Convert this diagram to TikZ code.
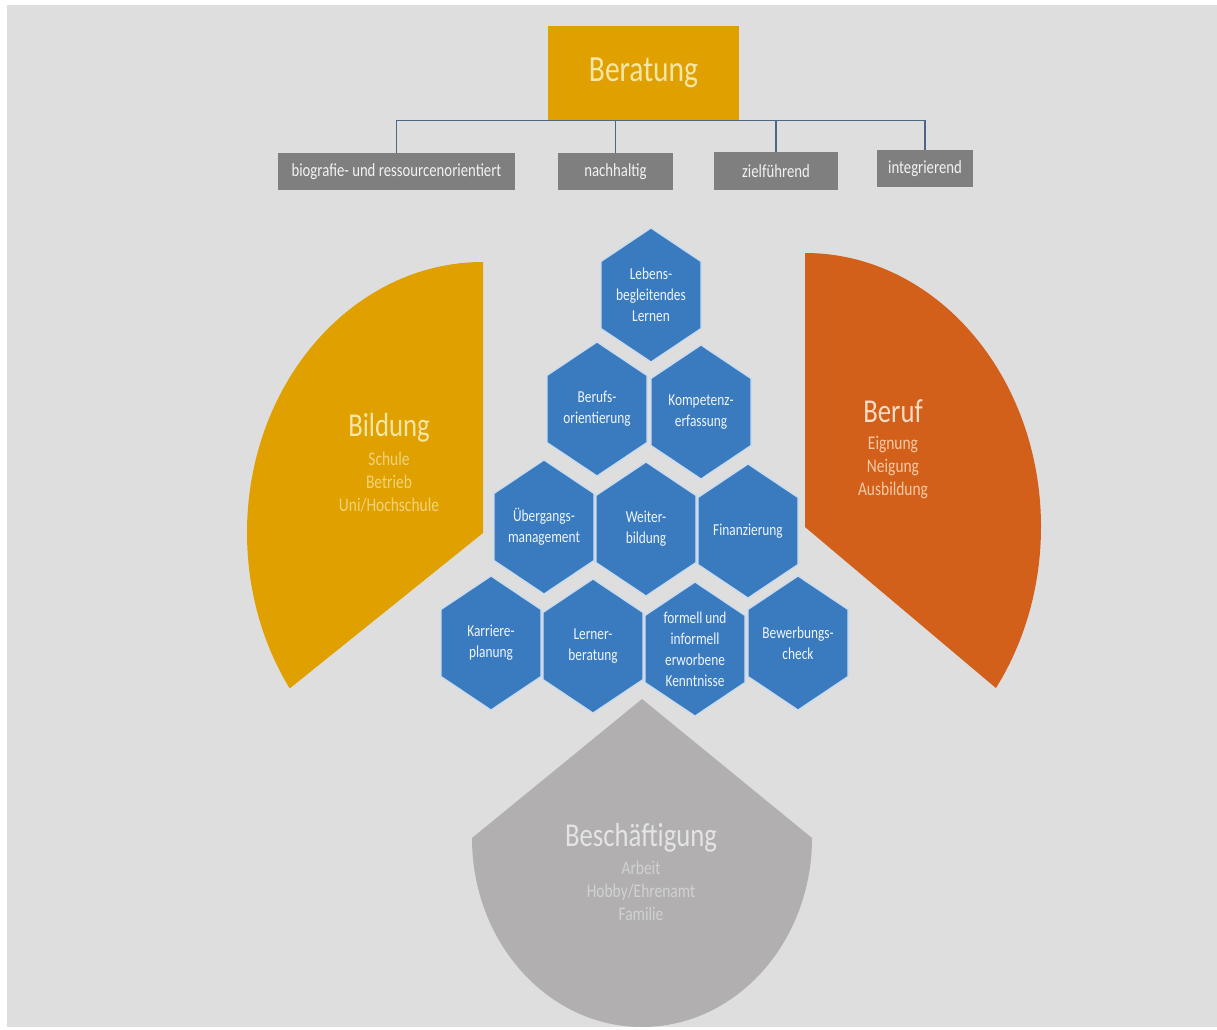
\documentclass[tikz,border=0pt]{standalone}
\usepackage{fontspec}
\setmainfont{Carlito}[FakeStretch=0.8]
\usetikzlibrary{calc}

\definecolor{bg}{HTML}{DEDEDE}
\definecolor{gold}{HTML}{E0A100}
\definecolor{rust}{HTML}{D2601A}
\definecolor{ash}{HTML}{B1AFAF}
\definecolor{hexblue}{HTML}{3A7BBF}
\definecolor{hexedge}{HTML}{C9DCEF}
\definecolor{slate}{HTML}{7F7F7F}
\definecolor{linkblue}{HTML}{4C6685}
\definecolor{paleyellow}{HTML}{F7E6A6}
\definecolor{softyellow}{HTML}{F2D27A}
\definecolor{palepeach}{HTML}{F9DCC4}
\definecolor{softpeach}{HTML}{F5C9A6}
\definecolor{paleash}{HTML}{E4E4E4}
\definecolor{softash}{HTML}{D2D2D2}

\tikzset{
  hexfill/.style={fill=hexblue, draw=hexedge, line width=0.7pt, line join=miter},
  hextext/.style={text=white!92!hexblue, font=\fontsize{9.5}{12}\selectfont, align=center, inner sep=0pt},
  tag/.style={fill=slate, text=white!90!slate, font=\fontsize{10.5}{12}\selectfont, inner sep=0pt},
  link/.style={draw=linkblue, line width=0.9pt},
  bigtitle/.style={font=\fontsize{19}{22}\selectfont, inner sep=0pt},
  subtitle/.style={font=\fontsize{11}{13}\selectfont, align=center, inner sep=0pt},
}

% one honeycomb cell: name, centre x, centre y, label
\newcommand\hexcell[4]{%
  \path[hexfill] (#2-50,#3+33.5) -- (#2,#3+67) -- (#2+50,#3+33.5) -- (#2+50,#3-33.5)
     -- (#2,#3-67) -- (#2-50,#3-33.5) -- cycle;
  \node[hextext] (#1) at (#2,#3) {#4};}

\begin{document}
\begin{tikzpicture}[x=0.02cm, y=0.02cm]
\useasboundingbox (0,0) rectangle (1217,1029);
\fill[white] (0,0) rectangle (1217,1029);
\fill[bg] (7,2) rectangle (1217,1024);

% header with its four qualities
\node[fill=gold, text=paleyellow, minimum width=3.82cm, minimum height=1.88cm,
      inner sep=0pt, font=\fontsize{21}{24}\selectfont] (beratung) at (643.5,956) {Beratung};
\node[tag, minimum width=4.74cm, minimum height=0.74cm] (bio) at (396.5,857.5) {biografie- und ressourcenorientiert};
\node[tag, minimum width=2.30cm, minimum height=0.74cm] (nach) at (615.5,857.5) {nachhaltig};
\node[tag, minimum width=2.48cm, minimum height=0.76cm] (ziel) at (776,858) {zielführend};
\node[tag, minimum width=1.92cm, minimum height=0.74cm] (integ) at (925,860.5) {integrierend};

\draw[link] (bio.north) |- (beratung.south -| integ.north) -- (integ.north);
\draw[link] (nach.north) -- (nach.north |- beratung.south);
\draw[link] (ziel.north) -- (ziel.north |- beratung.south);

% the three surrounding fields
\fill[gold] (483,496) -- (483,767) arc[start angle=90, end angle=215, x radius=236, y radius=271] -- cycle;
\fill[rust] (805,502) -- (805,776) arc[start angle=90, end angle=-36, x radius=236, y radius=274] -- cycle;
\fill[ash] (642,330) -- (472,191) arc[start angle=180, end angle=360, x radius=170, y radius=189] -- cycle;

\node[bigtitle, text=paleyellow] (bildung) at (389,601) {Bildung};
\node[subtitle, text=softyellow, anchor=north] (bildungsub) at (389,577) {Schule\\Betrieb\\Uni/Hochschule};

\node[bigtitle, text=palepeach] (beruf) at (893,618) {Beruf};
\node[subtitle, text=softpeach, anchor=north] (berufsub) at (893,593) {Eignung\\Neigung\\Ausbildung};

\node[bigtitle, text=paleash] (besch) at (641,191) {Beschäftigung};
\node[subtitle, text=softash, anchor=north] (beschsub) at (641,168) {Arbeit\\Hobby/Ehrenamt\\Familie};

% honeycomb of counselling topics
\hexcell{lernen}{651}{734}{Lebens-\\begleitendes\\Lernen}
\hexcell{orient}{597}{620}{Berufs-\\orientierung}
\hexcell{kompetenz}{701}{617}{Kompetenz-\\erfassung}
\hexcell{uebergang}{544}{502}{Übergangs-\\management}
\hexcell{weiter}{646}{500}{Weiter-\\bildung}
\hexcell{finanz}{748}{498}{Finanzierung}
\hexcell{karriere}{491}{386}{Karriere-\\planung}
\hexcell{lerner}{593}{383}{Lerner-\\beratung}
\hexcell{formell}{695}{380}{formell und\\informell\\erworbene\\Kenntnisse}
\hexcell{bewerbung}{798}{386}{Bewerbungs-\\check}
\end{tikzpicture}
\end{document}
